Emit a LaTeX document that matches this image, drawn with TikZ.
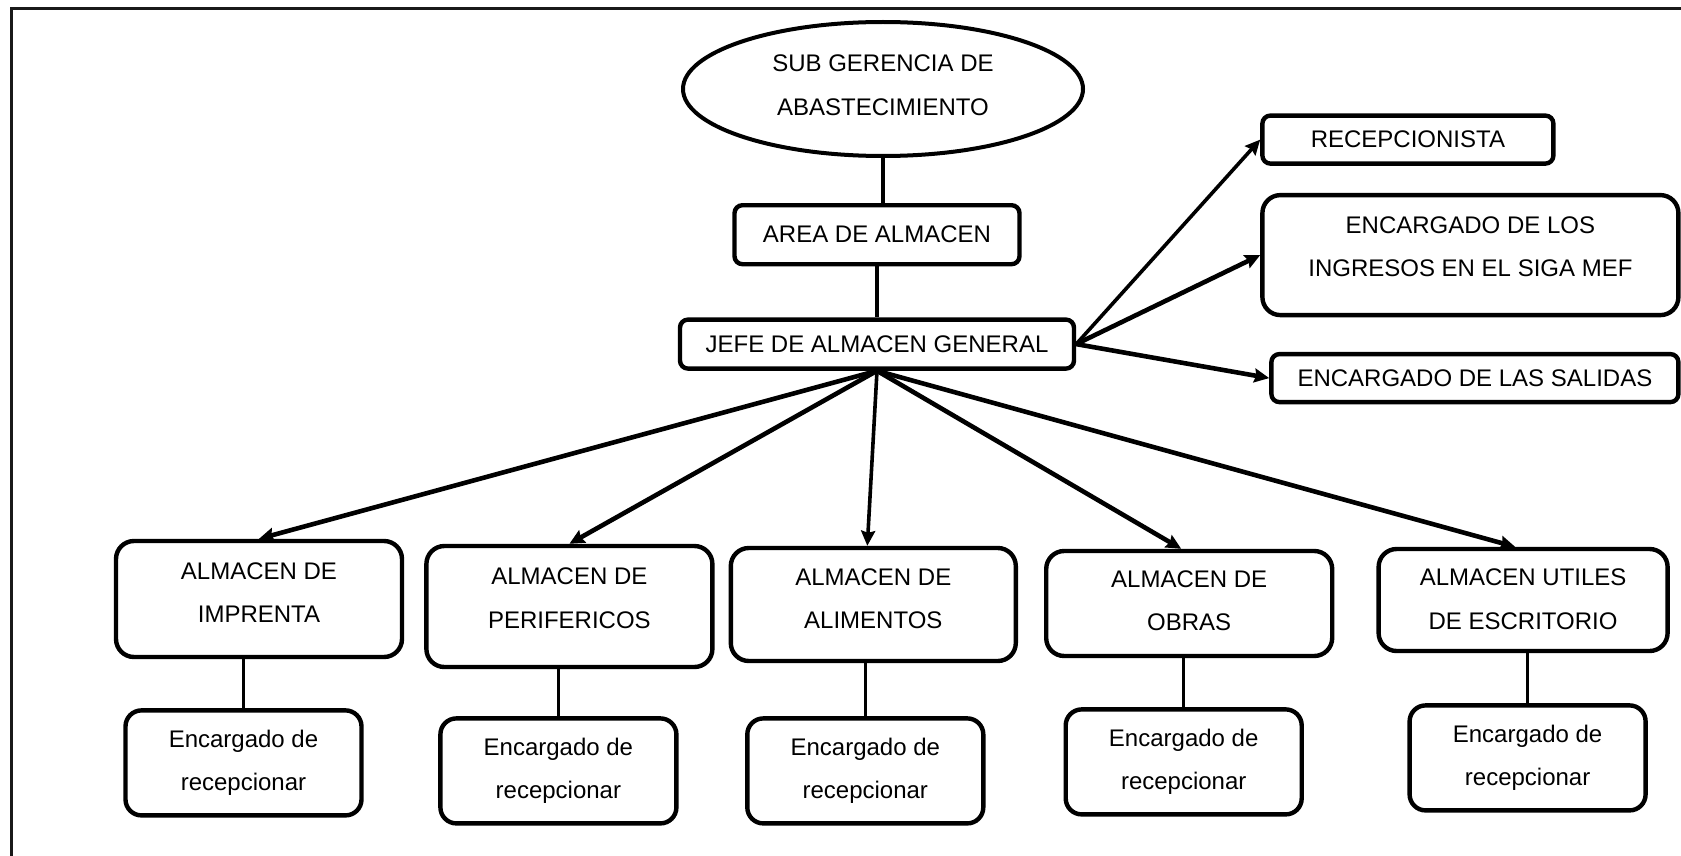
\documentclass[tikz,border=0pt]{standalone}
\usepackage{fontspec}
\setmainfont{Liberation Sans}
\usepackage{tikz}
\usetikzlibrary{shapes.geometric, arrows.meta, positioning, calc}
\definecolor{mydark}{RGB}{0,0,0}
\definecolor{myframe}{RGB}{25,25,25}
\newcommand{\orgfont}{\fontsize{12}{21.75}\selectfont}
\tikzset{
  ovalnode/.style={ellipse, draw=mydark, line width=2pt,
    minimum width=200pt, minimum height=67pt, inner sep=0pt,
    align=center, font=\orgfont},
  headbox/.style={rectangle, draw=mydark, line width=2.2pt,
    rounded corners=4pt, inner sep=0pt, align=center, font=\orgfont},
  almbox/.style={rectangle, draw=mydark, line width=2.2pt,
    rounded corners=9pt, inner sep=0pt, align=center, font=\orgfont,
    minimum width=143pt},
  encbox/.style={rectangle, draw=mydark, line width=2.2pt,
    rounded corners=8pt, inner sep=0pt, align=center, font=\orgfont,
    minimum width=118pt, minimum height=52.5pt},
  arrow/.style={-{Stealth[length=7.5pt, width=7pt, inset=1pt]},
    line width=2.3pt, color=mydark},
  thinarrow/.style={arrow, line width=1.8pt},
  line/.style={line width=1.6pt, color=mydark},
  framestyle/.style={line width=1.5pt, color=myframe}
}
\begin{document}
\begin{tikzpicture}
  \useasboundingbox (0,0) rectangle (840.5pt,-428pt);
  \draw[framestyle] (5.5pt,-428pt) -- (5.5pt,-4.5pt) -- (840.5pt,-4.5pt);

  \node[ovalnode, text depth=4pt] (sub) at (441.5pt,-44.5pt) {SUB GERENCIA DE\\ABASTECIMIENTO};
  \node[headbox, minimum width=142.5pt, minimum height=29.5pt,
        below=22.5pt of sub, xshift=-3pt] (area) {AREA DE ALMACEN};
  \node[headbox, minimum width=197pt, minimum height=24.5pt,
        below=25.5pt of area] (jefe) {JEFE DE ALMACEN GENERAL};

  \node[headbox, minimum width=145.5pt, minimum height=24pt,
        right=92pt of jefe, yshift=102.25pt] (recep) {RECEPCIONISTA};
  \node[headbox, rounded corners=9pt, minimum width=208pt, minimum height=60pt,
        text depth=8.6pt, right=92pt of jefe, yshift=44.5pt] (ingresos)
        {ENCARGADO DE LOS\\INGRESOS EN EL SIGA MEF};
  \node[headbox, minimum width=203.5pt, minimum height=24pt,
        right=96.5pt of jefe, yshift=-17pt] (salidas) {ENCARGADO DE LAS SALIDAS};

  \node[almbox, minimum height=58pt, text depth=6.4pt,
        below=84pt of jefe, xshift=-309pt] (imp) {ALMACEN DE\\IMPRENTA};
  \node[almbox, minimum height=60.5pt, text depth=8.6pt,
        right=10pt of imp, yshift=-3.75pt] (perif) {ALMACEN DE\\PERIFERICOS};
  \node[almbox, minimum width=142.5pt, minimum height=56.5pt, text depth=6pt,
        right=7pt of perif, yshift=1pt] (alim) {ALMACEN DE\\ALIMENTOS};
  \node[almbox, minimum height=52.5pt, text depth=2.7pt,
        right=13pt of alim, yshift=0.5pt] (obras) {ALMACEN DE\\OBRAS};
  \node[almbox, minimum width=144.5pt, minimum height=51pt, text depth=1pt,
        right=21pt of obras, yshift=1.75pt] (utiles) {ALMACEN UTILES\\DE ESCRITORIO};

  \node[encbox, below=24.5pt of imp, xshift=-7.75pt] (enc1) {Encargado de\\recepcionar};
  \node[encbox, below=23.5pt of perif, xshift=-5.5pt] (enc2) {Encargado de\\recepcionar};
  \node[encbox, below=26.5pt of alim, xshift=-4pt] (enc3) {Encargado de\\recepcionar};
  \node[encbox, below=24.5pt of obras, xshift=-2.75pt] (enc4) {Encargado de\\recepcionar};
  \node[encbox, below=25pt of utiles, xshift=2.25pt] (enc5) {Encargado de\\recepcionar};

  \draw[line] (sub.south) -- (sub.south |- area.north);
  \draw[line] (area.south) -- (jefe.north);

  \draw[thinarrow] (jefe.east) -- (recep.west);
  \draw[arrow]     (jefe.east) -- (ingresos.west);
  \draw[arrow]     (jefe.east) -- (salidas.west);

  \draw[arrow]     (jefe.south) -- (imp.north);
  \draw[arrow]     (jefe.south) -- (perif.north);
  \draw[thinarrow] (jefe.south) -- ([xshift=-3pt]alim.north);
  \draw[arrow]     (jefe.south) -- ([xshift=-4pt]obras.north);
  \draw[arrow]     (jefe.south) -- ([xshift=-4pt]utiles.north);

  \draw[line] (enc1.north) -- (enc1.north |- imp.south);
  \draw[line] (enc2.north) -- (enc2.north |- perif.south);
  \draw[line] (enc3.north) -- (enc3.north |- alim.south);
  \draw[line] (enc4.north) -- (enc4.north |- obras.south);
  \draw[line] (enc5.north) -- (enc5.north |- utiles.south);
\end{tikzpicture}
\end{document}
